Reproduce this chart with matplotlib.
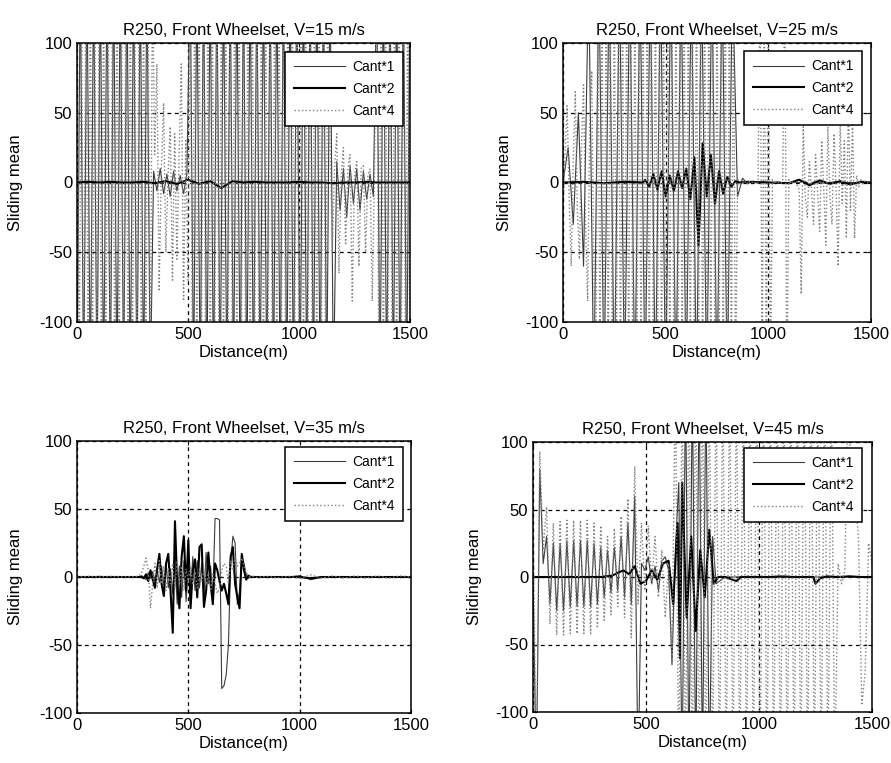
import numpy as np
import matplotlib
matplotlib.use("Agg")
import matplotlib.pyplot as plt

plt.rcParams['font.family'] = ['Liberation Sans', 'DejaVu Sans']
plt.rcParams['axes.unicode_minus'] = False

# ---------------- data ----------------
titles = ["R250, Front Wheelset, V=15 m/s", "R250, Front Wheelset, V=25 m/s",
          "R250, Front Wheelset, V=35 m/s", "R250, Front Wheelset, V=45 m/s"]
labels = ["Cant*1", "Cant*2", "Cant*4"]
xticks = [0, 500, 1000, 1500]
yticks = [-100, -50, 0, 50, 100]

# Panel A (V=15) -- values beyond +-100 are clipped by the axes
a4_step = 10
a4_y = [150, -150, 150, -150, 150, -150, 150, -150, 150, -150,
        150, -150, 150, -150, 150, -150, 150, -150, 150, -150,
        150, -150, 150, -150, 150, -150, 150, -150, 150, -150,
        150, -150, 150, -150, 150,
        20, 85, -78, 10, 57, -50, 5, 40, -70, 35, -55, 20, 85, -85, 30, -70,
        150, -150, 150, -150, 150, -150, 150, -150, 150, -150,
        150, -150, 150, -150, 150, -150, 150, -150, 150, -150,
        150, -150, 150, -150, 150, -150, 150, -150, 150, -150,
        150, -150, 150, -150, 150, -150, 150, -150, 150, -150,
        150, -150, 150, -150, 150, -150, 150, -150, 150, -150,
        150, -150, 150, -150, 150, -150, 150, -150, 150, -150,
        150, -150, 150,
        30, -50, 10, 35, -65, 5, 25, -45, 10, 20, -85, 5, 15, -60, 10, 12, -50, 5, 10, -85, 5,
        150, -150, 150, -150, 150, -150, 150, -150, 150, -150, 150, -150, 150, -150, 150, -150]
a1_step = 15
a1_y = [-150, 150, -150, 150, -150, 150, -150, 150, -150, 150,
        -150, 150, -150, 150, -150, 150, -150, 150, -150, 150,
        -150, 150, -150,
        8, -6, 10, -8, 6, -10, 8, -6, 5, -8, 6,
        150, -150, 150, -150, 150, -150, 150, -150, 150, -150,
        150, -150, 150, -150, 150, -150, 150, -150, 150, -150,
        150, -150, 150, -150, 150, -150, 150, -150, 150, -150,
        150, -150, 150, -150, 150, -150, 150, -150, 150, -150,
        150, -150, 150, -150,
        15, -20, 10, -25, 12, -15, 10, -20, 8, -12, 6, -10,
        150, -150, 150, -150, 150, -150, 150, -150, 150, -150, 150]
a2_step = 50
a2_y = [0, 0.5, 0, 0.5, 0, 0, 0.5, -0.5, 1, -1, 2, -1, 1, -4, 1, 0,
        0.5, 0, 0, 0, 0.5, 0, 0, -0.5, 0, 0, 0.5, 0, 0, 0, 0]

# Panel B (V=25)
b4_step = 10
b4_y = [-25, 20, 55, -10, -60, 15, 65, -20, -55, 25, 70, -30, -85, 40, 80, -60, -150,
        150, -150, 150, -150, 150, -150, 150, -150, 150, -150,
        150, -150, 150, -150, 150, -150, 150, -150, 150, -150,
        150, -150, 150, -150, 150, -150, 150, -150, 150, -150,
        150, -150, 150, -150, 150, -150, 150, -150, 150, -150,
        150, -150, 150, -150, 150, -150, 150, -150, 150, -150,
        150, -150, 150, -150, 150, -150, 150, -150, 150, -150,
        150, -150, 150, -150, 150, -150, 150, -150,
        3, -2, 2, -1, 1, -1, 1, 0, 1, -1, 0, 150, -150, 150, -150, 150, -150,
        2, -1, 1, 0, -1, 1, 150, -150, 2, -1, 1, 0, -2, -5,
        -80, 40, -10, -25, 15, -5, -30, 20, -8, -35, 30, -5, -45, 40, -10, -30, 35, -5,
        -60, 45, -15, 30, -40, 60, -20, 45, -40, 5, -3, 2, -1, 1, 0, 0.5, 0]
b1_step = 25
b1_y = [0, 25, -30, 50, -60, 150,
        -150, 150, -150, 150, -150, 150, -150, 150, -150, 150, -150, 150, -150, 150,
        -150, 150, -150, 150, -150, 150, -150, 150, -150, 150, -150, 150, -150, 150,
        -10, 3,
        -1, 1, -0.5, 0.5, 0, 0, 0.5, -0.5, 0, 0, 0, 1, -1, 0.5, 0, -0.5, 0, 0.5, 0, 0, 0, 0, 0, 0, 0]
b2_x = np.concatenate([[0, 100, 200, 300, 390], np.arange(400, 861, 20),
                       [900, 1000, 1100, 1150, 1200, 1250, 1300, 1350, 1400, 1450, 1500]])
b2_y = [0, 0.5, -0.5, 0.5, 0,
        2, -3, 6, -5, 8, -10, 5, -6, 8, -4, 10, -12, 18, -45, 28, -10, 20, -15, 8, -8, 4, -3, 1, 0,
        0.5, 0, -0.5, 2, -2, 1.5, -1, 1, -1.5, 0.5, 0]

# Panel C (V=35)
c_x = np.concatenate([[0, 50, 100, 150, 200, 250], np.arange(260, 821, 10), np.arange(850, 1501, 50)])
c4_y = [0, 0.5, 0, 0.5, 0, 0.3,
        0, 0.5, 1, 3, 8, 14, 5, -23, -5, 10,
        -8, 12, -5, 8, -10, 6, -5, 10, -8, 12,
        -6, 8, -10, 6, -4, 8, -6, 4, -8, 6,
        -4, 5, -6, 3, -10, 2, -5, -12, -8, 5,
        10, 8, -5, 12, 5, 15, 8, 10, 14, 8,
        3, 1, 0, 0.5, 0, -0.5, 0,
        0.5, -0.5, 0.5, -1, 1.5, -0.8, 0.8, -0.8, 0.8, -0.8, 0.8, -0.8, 0.8, 0]
c2_y = [0, 0, 0, 0, 0, 0,
        0, 0, 0, 0, -1, 2, -3, 5, -2, -8,
        6, 17, -5, -14, 10, 17, -10, -41, 41, -5,
        -23, 15, 30, -10, 27, -23, 5, 13, -15, 22,
        24, -22, -10, 18, -5, -20, 10, 5, -3, -10,
        -5, -12, -20, 15, 22, -5, -15, -23, 17, 5,
        -2, 1, 0, 0, 0, 0, 0,
        0, 0, 0, 0, -1, 0, 0, 0, 0, 0, 0, 0, 0, 0]
c1_y = [0, 0, 0.5, 0, 0, 0,
        0, 0, 0, 1, 0, -2, 3, -1, 4, -3,
        5, -4, 8, -6, 10, -8, 6, -12, 10, -20,
        8, -15, 12, -18, 10, -12, 15, -10, 12, -8,
        10, -15, 18, -5, 8, -15, 43, 43, 42, -82,
        -80, -72, -50, 10, 30, 25, -20, -10, 15, 10,
        2, -1, 0.5, 0, 0, 0, 0,
        0, 0, 0, 1, -2, 0, 0, 0, 0, 0, 0, 0, 0, 0]

# Panel D (V=45)
d4_step = 15
d4_y = [50, -150, 93, 20, 52, -35, 40, -43, 41, -43,
        42, -42, 42, -42, 42, -42, 42, -42, 40, -38,
        38, -32, 30, -28, 36, -22, 45, -30, 58, -45,
        82, -20, 40, -10, 38, -5, 30, -15, 20, -30,
        10, -60,
        150, -150, 150, -150, 150, -150, 150, -150, 150, -150, 150, -150, 150, -150, 150, -150,
        150, -150, 150, -150, 150, -150, 150, -150, 150, -150, 150, -150, 150, -150, 150, -150,
        150, -150, 150, -150, 150, -150, 150, -150, 150, -150, 150, -150, 150, -150, 150,
        -150, 10, -5, 5, 150, 40, 60, 30, -95, -70, 25, 10]
d1_x = np.concatenate([np.arange(0, 811, 15), np.arange(850, 1501, 50)])
d1_y = [0, -150, 80, 10, 30, -20, 25, -25, 25, -25,
        27, -22, 27, -22, 27, -22, 27, -22, 25, -20,
        22, -15, 20, -12, 22, -10, 30, -15, 40, -20,
        60, -150, 10, 5, 15, -5, 8, -10, 12, 15,
        5, -65, 20, 70, -150, 150, -150, 150, -150, 150,
        -150, 150, -150, 30, -5,
        0, 0, 0.5, 0, 0, 0, 0, 0, 0, 0, 0, 0, 0, 0]
d2_x = [0, 100, 200, 300, 350, 375, 400, 425, 450, 475, 500, 525, 550, 575,
        600, 620, 640, 650, 660, 680, 700, 720, 740, 760, 780, 800, 820, 850, 900, 920,
        950, 1000, 1050, 1100, 1150, 1200, 1240, 1250, 1270, 1300, 1350, 1400, 1450, 1500]
d2_y = [0, 0, 0, 0, 1, 3, 5, 2, 8, -5, -3, 5, -2, 10,
        12, -20, 40, -60, 70, -30, 30, -40, 20, -15, 35, -5, 0, 0, -3, 0,
        0, 0, 0, 0.5, 0, 0, 0, -5, -1, 0.5, 0, 0.5, 0, 0]


def grid_x(step, values):
    return np.arange(len(values)) * step


panels = [
    dict(s1=(grid_x(a1_step, a1_y), a1_y), s2=(grid_x(a2_step, a2_y), a2_y), s4=(grid_x(a4_step, a4_y), a4_y),
         rect=[77, 43, 410, 322], leg=(0.979, 0.968), ylab=-0.162),
    dict(s1=(grid_x(b1_step, b1_y), b1_y), s2=(b2_x, b2_y), s4=(grid_x(b4_step, b4_y), b4_y),
         rect=[563, 43, 871, 322], leg=(0.971, 0.971), ylab=-0.166),
    dict(s1=(c_x, c1_y), s2=(c_x, c2_y), s4=(c_x, c4_y),
         rect=[77, 441, 411, 713], leg=(0.976, 0.978), ylab=-0.162),
    dict(s1=(d1_x, d1_y), s2=(d2_x, d2_y), s4=(grid_x(d4_step, d4_y), d4_y),
         rect=[533, 442, 872, 712], leg=(0.970, 0.978), ylab=-0.150),
]

W, H = 891, 763
fig = plt.figure(figsize=(W / 100, H / 100), dpi=100)

for p, title in zip(panels, titles):
    l, t, r, b = p['rect']
    ax = fig.add_axes([l / W, 1 - b / H, (r - l) / W, (b - t) / H])
    h1, = ax.plot(*p['s1'], color='#3c3c3c', lw=0.8, ls='-')
    h2, = ax.plot(*p['s2'], color='black', lw=1.5, ls='-')
    h4, = ax.plot(*p['s4'], color='#808080', lw=1.0, ls=':')
    ax.set_xlim(0, 1500)
    ax.set_ylim(-100, 100)
    ax.set_xticks(xticks)
    ax.set_yticks(yticks)
    ax.grid(True, color='black', linestyle=(0, (3, 3)), linewidth=0.9)
    ax.tick_params(direction='in', length=3, labelsize=12, top=True, right=True)
    for sp in ax.spines.values():
        sp.set_linewidth(1.1)
    ax.set_title(title, fontsize=12, pad=6)
    ax.set_xlabel("Distance(m)", fontsize=12, labelpad=2)
    ax.set_ylabel("Sliding mean", fontsize=12)
    ax.yaxis.set_label_coords(p['ylab'], 0.5)
    leg = ax.legend([h1, h2, h4], labels, loc='upper right', bbox_to_anchor=p['leg'],
                    fontsize=10, frameon=True, fancybox=False, framealpha=1,
                    edgecolor='black', handlelength=3.7, handletextpad=0.5,
                    borderpad=0.6, labelspacing=0.55, borderaxespad=0)
    leg.get_frame().set_linewidth(1.1)
    leg.set_zorder(5)

fig.savefig("out.png", dpi=100)
